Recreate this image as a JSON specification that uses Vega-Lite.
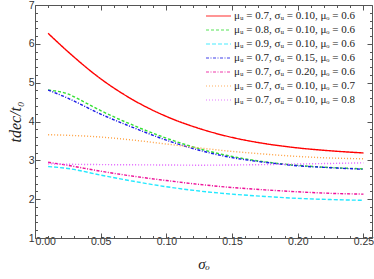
{
 "$schema": "https://vega.github.io/schema/vega-lite/v6.json",
 "width": 337, "height": 233,
 "autosize": {"type": "none"},
 "padding": {"left": 35, "top": 5, "right": 2, "bottom": 41},
 "background": "white",
 "config": {
  "view": {"stroke": null},
  "axis": {"grid": false, "domainColor": "#555", "tickColor": "#555", "domainWidth": 1, "tickWidth": 1,
   "labelFont": "Liberation Sans", "labelFontSize": 10.5, "labelColor": "#333",
   "titleFont": "Liberation Serif", "titleFontStyle": "italic", "titleFontWeight": "normal", "titleFontSize": 15, "titleColor": "#222"}
 },
 "datasets": {
  "curves": [
   {"s":"μᵤ = 0.7, σᵤ = 0.10, μₒ = 0.6","x":0.01,"y":6.27},{"s":"μᵤ = 0.7, σᵤ = 0.10, μₒ = 0.6","x":0.025,"y":5.8},{"s":"μᵤ = 0.7, σᵤ = 0.10, μₒ = 0.6","x":0.05,"y":5.1},{"s":"μᵤ = 0.7, σᵤ = 0.10, μₒ = 0.6","x":0.075,"y":4.55},{"s":"μᵤ = 0.7, σᵤ = 0.10, μₒ = 0.6","x":0.1,"y":4.13},{"s":"μᵤ = 0.7, σᵤ = 0.10, μₒ = 0.6","x":0.125,"y":3.82},{"s":"μᵤ = 0.7, σᵤ = 0.10, μₒ = 0.6","x":0.15,"y":3.59},{"s":"μᵤ = 0.7, σᵤ = 0.10, μₒ = 0.6","x":0.175,"y":3.43},{"s":"μᵤ = 0.7, σᵤ = 0.10, μₒ = 0.6","x":0.2,"y":3.32},{"s":"μᵤ = 0.7, σᵤ = 0.10, μₒ = 0.6","x":0.225,"y":3.245},{"s":"μᵤ = 0.7, σᵤ = 0.10, μₒ = 0.6","x":0.25,"y":3.19},
   {"s":"μᵤ = 0.8, σᵤ = 0.10, μₒ = 0.6","x":0.01,"y":4.81},{"s":"μᵤ = 0.8, σᵤ = 0.10, μₒ = 0.6","x":0.025,"y":4.71},{"s":"μᵤ = 0.8, σᵤ = 0.10, μₒ = 0.6","x":0.0375,"y":4.5},{"s":"μᵤ = 0.8, σᵤ = 0.10, μₒ = 0.6","x":0.05,"y":4.28},{"s":"μᵤ = 0.8, σᵤ = 0.10, μₒ = 0.6","x":0.075,"y":3.9},{"s":"μᵤ = 0.8, σᵤ = 0.10, μₒ = 0.6","x":0.1,"y":3.57},{"s":"μᵤ = 0.8, σᵤ = 0.10, μₒ = 0.6","x":0.125,"y":3.3},{"s":"μᵤ = 0.8, σᵤ = 0.10, μₒ = 0.6","x":0.15,"y":3.1},{"s":"μᵤ = 0.8, σᵤ = 0.10, μₒ = 0.6","x":0.175,"y":2.96},{"s":"μᵤ = 0.8, σᵤ = 0.10, μₒ = 0.6","x":0.2,"y":2.87},{"s":"μᵤ = 0.8, σᵤ = 0.10, μₒ = 0.6","x":0.225,"y":2.815},{"s":"μᵤ = 0.8, σᵤ = 0.10, μₒ = 0.6","x":0.25,"y":2.78},
   {"s":"μᵤ = 0.9, σᵤ = 0.10, μₒ = 0.6","x":0.01,"y":2.84},{"s":"μᵤ = 0.9, σᵤ = 0.10, μₒ = 0.6","x":0.025,"y":2.79},{"s":"μᵤ = 0.9, σᵤ = 0.10, μₒ = 0.6","x":0.05,"y":2.62},{"s":"μᵤ = 0.9, σᵤ = 0.10, μₒ = 0.6","x":0.075,"y":2.46},{"s":"μᵤ = 0.9, σᵤ = 0.10, μₒ = 0.6","x":0.1,"y":2.32},{"s":"μᵤ = 0.9, σᵤ = 0.10, μₒ = 0.6","x":0.125,"y":2.21},{"s":"μᵤ = 0.9, σᵤ = 0.10, μₒ = 0.6","x":0.15,"y":2.13},{"s":"μᵤ = 0.9, σᵤ = 0.10, μₒ = 0.6","x":0.175,"y":2.07},{"s":"μᵤ = 0.9, σᵤ = 0.10, μₒ = 0.6","x":0.2,"y":2.02},{"s":"μᵤ = 0.9, σᵤ = 0.10, μₒ = 0.6","x":0.225,"y":1.99},{"s":"μᵤ = 0.9, σᵤ = 0.10, μₒ = 0.6","x":0.25,"y":1.97},
   {"s":"μᵤ = 0.7, σᵤ = 0.15, μₒ = 0.6","x":0.01,"y":4.81},{"s":"μᵤ = 0.7, σᵤ = 0.15, μₒ = 0.6","x":0.025,"y":4.6},{"s":"μᵤ = 0.7, σᵤ = 0.15, μₒ = 0.6","x":0.05,"y":4.19},{"s":"μᵤ = 0.7, σᵤ = 0.15, μₒ = 0.6","x":0.075,"y":3.84},{"s":"μᵤ = 0.7, σᵤ = 0.15, μₒ = 0.6","x":0.1,"y":3.52},{"s":"μᵤ = 0.7, σᵤ = 0.15, μₒ = 0.6","x":0.125,"y":3.26},{"s":"μᵤ = 0.7, σᵤ = 0.15, μₒ = 0.6","x":0.15,"y":3.07},{"s":"μᵤ = 0.7, σᵤ = 0.15, μₒ = 0.6","x":0.175,"y":2.95},{"s":"μᵤ = 0.7, σᵤ = 0.15, μₒ = 0.6","x":0.2,"y":2.86},{"s":"μᵤ = 0.7, σᵤ = 0.15, μₒ = 0.6","x":0.225,"y":2.81},{"s":"μᵤ = 0.7, σᵤ = 0.15, μₒ = 0.6","x":0.25,"y":2.77},
   {"s":"μᵤ = 0.7, σᵤ = 0.20, μₒ = 0.6","x":0.01,"y":2.95},{"s":"μᵤ = 0.7, σᵤ = 0.20, μₒ = 0.6","x":0.025,"y":2.87},{"s":"μᵤ = 0.7, σᵤ = 0.20, μₒ = 0.6","x":0.05,"y":2.72},{"s":"μᵤ = 0.7, σᵤ = 0.20, μₒ = 0.6","x":0.075,"y":2.59},{"s":"μᵤ = 0.7, σᵤ = 0.20, μₒ = 0.6","x":0.1,"y":2.48},{"s":"μᵤ = 0.7, σᵤ = 0.20, μₒ = 0.6","x":0.125,"y":2.38},{"s":"μᵤ = 0.7, σᵤ = 0.20, μₒ = 0.6","x":0.15,"y":2.3},{"s":"μᵤ = 0.7, σᵤ = 0.20, μₒ = 0.6","x":0.175,"y":2.24},{"s":"μᵤ = 0.7, σᵤ = 0.20, μₒ = 0.6","x":0.2,"y":2.19},{"s":"μᵤ = 0.7, σᵤ = 0.20, μₒ = 0.6","x":0.225,"y":2.15},{"s":"μᵤ = 0.7, σᵤ = 0.20, μₒ = 0.6","x":0.25,"y":2.13},
   {"s":"μᵤ = 0.7, σᵤ = 0.10, μₒ = 0.7","x":0.01,"y":3.66},{"s":"μᵤ = 0.7, σᵤ = 0.10, μₒ = 0.7","x":0.025,"y":3.645},{"s":"μᵤ = 0.7, σᵤ = 0.10, μₒ = 0.7","x":0.05,"y":3.6},{"s":"μᵤ = 0.7, σᵤ = 0.10, μₒ = 0.7","x":0.075,"y":3.52},{"s":"μᵤ = 0.7, σᵤ = 0.10, μₒ = 0.7","x":0.1,"y":3.42},{"s":"μᵤ = 0.7, σᵤ = 0.10, μₒ = 0.7","x":0.125,"y":3.32},{"s":"μᵤ = 0.7, σᵤ = 0.10, μₒ = 0.7","x":0.15,"y":3.23},{"s":"μᵤ = 0.7, σᵤ = 0.10, μₒ = 0.7","x":0.175,"y":3.16},{"s":"μᵤ = 0.7, σᵤ = 0.10, μₒ = 0.7","x":0.2,"y":3.1},{"s":"μᵤ = 0.7, σᵤ = 0.10, μₒ = 0.7","x":0.225,"y":3.06},{"s":"μᵤ = 0.7, σᵤ = 0.10, μₒ = 0.7","x":0.25,"y":3.04},
   {"s":"μᵤ = 0.7, σᵤ = 0.10, μₒ = 0.8","x":0.01,"y":2.91},{"s":"μᵤ = 0.7, σᵤ = 0.10, μₒ = 0.8","x":0.025,"y":2.9},{"s":"μᵤ = 0.7, σᵤ = 0.10, μₒ = 0.8","x":0.05,"y":2.89},{"s":"μᵤ = 0.7, σᵤ = 0.10, μₒ = 0.8","x":0.075,"y":2.885},{"s":"μᵤ = 0.7, σᵤ = 0.10, μₒ = 0.8","x":0.1,"y":2.88},{"s":"μᵤ = 0.7, σᵤ = 0.10, μₒ = 0.8","x":0.125,"y":2.875},{"s":"μᵤ = 0.7, σᵤ = 0.10, μₒ = 0.8","x":0.15,"y":2.88},{"s":"μᵤ = 0.7, σᵤ = 0.10, μₒ = 0.8","x":0.175,"y":2.89},{"s":"μᵤ = 0.7, σᵤ = 0.10, μₒ = 0.8","x":0.2,"y":2.905},{"s":"μᵤ = 0.7, σᵤ = 0.10, μₒ = 0.8","x":0.225,"y":2.92},{"s":"μᵤ = 0.7, σᵤ = 0.10, μₒ = 0.8","x":0.25,"y":2.935}
  ]
 },
 "data": {"name": "curves"},
 "layer": [
  {
   "mark": {"type": "line", "strokeWidth": 1.4, "interpolate": "monotone", "clip": true},
   "encoding": {
    "x": {"field": "x", "type": "quantitative", "scale": {"domain": [0, 0.2565], "nice": false, "zero": false},
     "axis": {"orient": "bottom", "values": [0, 0.05, 0.1, 0.15, 0.2, 0.25], "format": ".2f", "tickSize": -5, "labelPadding": 3, "title": "σₒ", "titlePadding": 10}},
    "y": {"field": "y", "type": "quantitative", "scale": {"domain": [1, 7], "nice": false, "zero": false},
     "axis": {"orient": "left", "values": [1, 2, 3, 4, 5, 6, 7], "format": "d", "tickSize": -5, "labelPadding": 6, "title": "tdec/t₀", "titlePadding": 5, "titleFontSize": 16}},
    "color": {"field": "s", "type": "nominal",
     "scale": {"domain": ["μᵤ = 0.7, σᵤ = 0.10, μₒ = 0.6", "μᵤ = 0.8, σᵤ = 0.10, μₒ = 0.6", "μᵤ = 0.9, σᵤ = 0.10, μₒ = 0.6", "μᵤ = 0.7, σᵤ = 0.15, μₒ = 0.6", "μᵤ = 0.7, σᵤ = 0.20, μₒ = 0.6", "μᵤ = 0.7, σᵤ = 0.10, μₒ = 0.7", "μᵤ = 0.7, σᵤ = 0.10, μₒ = 0.8"],
      "range": ["#ff0000", "#33e033", "#22e8ff", "#1a1ae6", "#ee1199", "#ffa040", "#e060ff"]},
     "legend": {"title": null, "orient": "none", "legendX": 177.5, "legendY": 5, "padding": 0, "symbolType": "M-2.5,0H2.5", "symbolSize": 100, "symbolStrokeWidth": 1.6, "symbolOpacity": 0.55, "labelFont": "Liberation Serif", "labelFontSize": 11, "labelColor": "#222", "rowPadding": 3, "labelOffset": 9.5}},
    "strokeDash": {"field": "s", "type": "nominal",
     "scale": {"domain": ["μᵤ = 0.7, σᵤ = 0.10, μₒ = 0.6", "μᵤ = 0.8, σᵤ = 0.10, μₒ = 0.6", "μᵤ = 0.9, σᵤ = 0.10, μₒ = 0.6", "μᵤ = 0.7, σᵤ = 0.15, μₒ = 0.6", "μᵤ = 0.7, σᵤ = 0.20, μₒ = 0.6", "μᵤ = 0.7, σᵤ = 0.10, μₒ = 0.7", "μᵤ = 0.7, σᵤ = 0.10, μₒ = 0.8"],
      "range": [[1, 0], [3, 2], [4, 2], [3, 1.5, 1, 1.5], [3, 1.5, 1, 1.5], [1, 2], [1, 2]]},
     "legend": {"title": null, "orient": "none", "legendX": 177.5, "legendY": 5, "padding": 0, "symbolType": "M-2.5,0H2.5", "symbolSize": 100, "symbolStrokeWidth": 1.6, "symbolOpacity": 0.55, "labelFont": "Liberation Serif", "labelFontSize": 11, "labelColor": "#222", "rowPadding": 3, "labelOffset": 9.5}}
   }
  },
  {
   "mark": {"type": "line", "strokeOpacity": 0},
   "encoding": {
    "x": {"field": "x", "type": "quantitative", "axis": {"orient": "top", "values": [0, 0.05, 0.1, 0.15, 0.2, 0.25], "labels": false, "tickSize": -5, "title": null}},
    "y": {"field": "y", "type": "quantitative", "axis": {"orient": "right", "values": [1, 2, 3, 4, 5, 6, 7], "labels": false, "tickSize": -5, "title": null}}
   }
  },
  {
   "mark": {"type": "line", "strokeOpacity": 0},
   "encoding": {
    "x": {"field": "x", "type": "quantitative", "axis": {"orient": "bottom", "values": [0.01, 0.02, 0.03, 0.04, 0.06, 0.07, 0.08, 0.09, 0.11, 0.12, 0.13, 0.14, 0.16, 0.17, 0.18, 0.19, 0.21, 0.22, 0.23, 0.24], "labels": false, "domain": false, "tickSize": -2.5, "title": null}},
    "y": {"field": "y", "type": "quantitative", "axis": {"orient": "left", "values": [1.2, 1.4, 1.6, 1.8, 2.2, 2.4, 2.6, 2.8, 3.2, 3.4, 3.6, 3.8, 4.2, 4.4, 4.6, 4.8, 5.2, 5.4, 5.6, 5.8, 6.2, 6.4, 6.6, 6.8], "labels": false, "domain": false, "tickSize": -2.5, "title": null}}
   }
  },
  {
   "mark": {"type": "line", "strokeOpacity": 0},
   "encoding": {
    "x": {"field": "x", "type": "quantitative", "axis": {"orient": "top", "values": [0.01, 0.02, 0.03, 0.04, 0.06, 0.07, 0.08, 0.09, 0.11, 0.12, 0.13, 0.14, 0.16, 0.17, 0.18, 0.19, 0.21, 0.22, 0.23, 0.24], "labels": false, "domain": false, "tickSize": -2.5, "title": null}},
    "y": {"field": "y", "type": "quantitative", "axis": {"orient": "right", "values": [1.2, 1.4, 1.6, 1.8, 2.2, 2.4, 2.6, 2.8, 3.2, 3.4, 3.6, 3.8, 4.2, 4.4, 4.6, 4.8, 5.2, 5.4, 5.6, 5.8, 6.2, 6.4, 6.6, 6.8], "labels": false, "domain": false, "tickSize": -2.5, "title": null}}
   }
  }
 ],
 "resolve": {"axis": {"x": "independent", "y": "independent"}}
}
